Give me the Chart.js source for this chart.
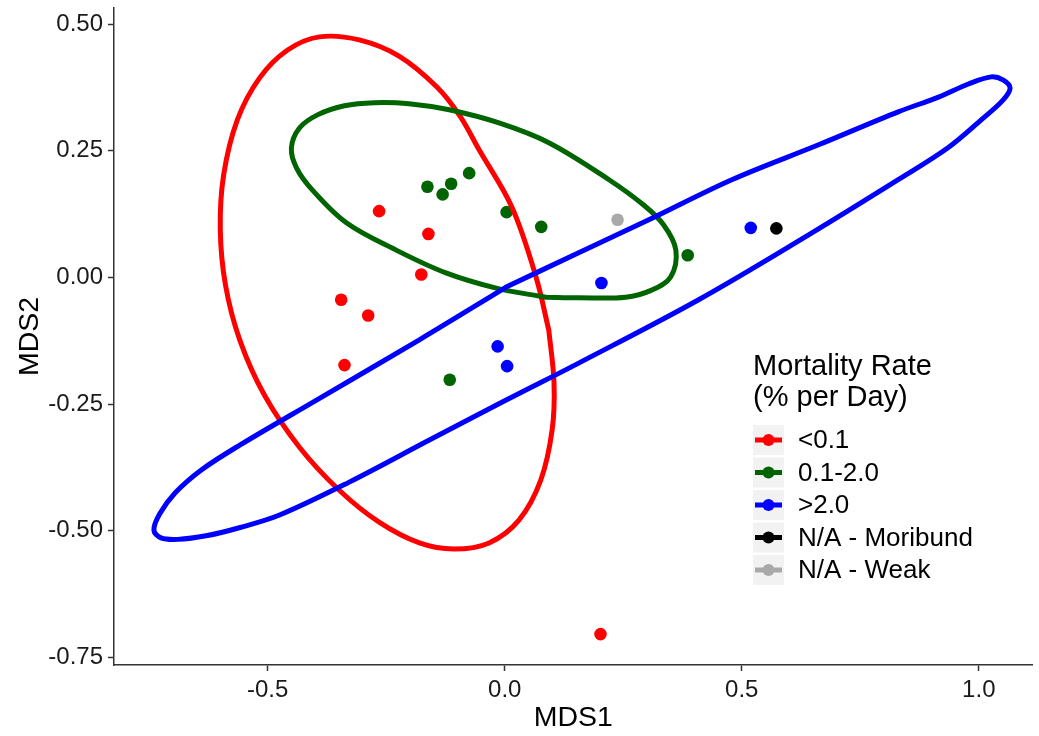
<!DOCTYPE html>
<html>
<head>
<meta charset="utf-8">
<script src="https://cdn.jsdelivr.net/npm/chart.js@4.4.0/dist/chart.umd.min.js"></script>
<style>
  html, body { margin: 0; padding: 0; background: #fff; }
</style>
</head>
<body>
<canvas id="mdsChart" width="1039" height="736"></canvas>
<script>
// groups (legend order) and colours
const groups = ['<0.1', '0.1-2.0', '>2.0', 'N/A - Moribund', 'N/A - Weak'];
const groupColors = ['#FF0000', '#006400', '#0000FF', '#000000', '#A9A9A9'];

// site scores, MDS1 / MDS2
const lowX = [-0.265, -0.161, -0.176, -0.345, -0.288, -0.338, 0.202];
const lowY = [0.131, 0.086, 0.006, -0.044, -0.075, -0.173, -0.704];
const midX = [-0.163, -0.131, -0.113, -0.075, 0.004, 0.077, -0.116, 0.386];
const midY = [0.179, 0.164, 0.185, 0.206, 0.129, 0.100, -0.202, 0.044];
const highX = [-0.015, 0.005, 0.204, 0.519];
const highY = [-0.136, -0.175, -0.011, 0.098];
const moribundX = [0.573];
const moribundY = [0.097];
const weakX = [0.238];
const weakY = [0.114];

// ellipse outlines (each starts on a flat stretch)
const lowEllX = [0.093, 0.104, 0.100, 0.076, 0.030, -0.033, -0.107, -0.180, -0.265, -0.349, -0.433, -0.507, -0.559,
  -0.589, -0.600, -0.593, -0.564, -0.517, -0.458, -0.391, -0.307, -0.223, -0.142, -0.094, -0.054, 0.015, 0.066];
const lowEllY = [-0.104, -0.208, -0.301, -0.400, -0.479, -0.524, -0.536, -0.524, -0.483, -0.420, -0.335, -0.232, -0.123,
  -0.015, 0.094, 0.202, 0.311, 0.394, 0.449, 0.475, 0.469, 0.437, 0.375, 0.318, 0.252, 0.139, 0.001];
const midEllX = [0.087, -0.018, -0.124, -0.229, -0.334, -0.406, -0.439, -0.450, -0.433, -0.395, -0.338, -0.275,
  -0.202, -0.117, -0.012, 0.093, 0.220, 0.293, 0.335, 0.361, 0.350, 0.310, 0.255, 0.156];
const midEllY = [-0.039, -0.021, 0.009, 0.054, 0.108, 0.173, 0.216, 0.256, 0.295, 0.321, 0.339, 0.345,
  0.343, 0.331, 0.305, 0.266, 0.193, 0.143, 0.104, 0.054, 0.001, -0.025, -0.039, -0.040];
const highEllX = [0.003, -0.180, -0.397, -0.559, -0.640, -0.695, -0.728, -0.740, -0.725, -0.690, -0.630, -0.560,
  -0.475, -0.328, -0.159, 0.003, 0.156, 0.409, 0.641, 0.830, 0.935, 1.005, 1.051, 1.066, 1.051, 1.026, 0.978,
  0.915, 0.830, 0.662, 0.479, 0.304, 0.156];
const highEllY = [-0.019, -0.123, -0.242, -0.331, -0.380, -0.425, -0.467, -0.499, -0.514, -0.517, -0.510, -0.494,
  -0.469, -0.404, -0.321, -0.242, -0.169, -0.044, 0.084, 0.193, 0.256, 0.311, 0.350, 0.374, 0.390, 0.396, 0.382,
  0.356, 0.327, 0.262, 0.193, 0.114, 0.049];

const xTicks = [-0.5, 0.0, 0.5, 1.0];
const yTicks = [-0.75, -0.50, -0.25, 0.00, 0.25, 0.50];

function pts(xs, ys) {
  return xs.map(function(x, i) { return {x: x, y: ys[i]}; });
}
function loop(xs, ys) {
  var p = pts(xs, ys);
  p.push(p[0]);
  return p;
}

const FONT = "'Liberation Sans', Arial, sans-serif";

function ellipseSet(data, color, order) {
  return {
    data: data,
    showLine: true,
    borderColor: color,
    borderWidth: 5,
    tension: 0.35,
    borderCapStyle: 'round',
    borderJoinStyle: 'round',
    pointRadius: 0,
    fill: false,
    order: order
  };
}
function pointSet(data, color, order) {
  return {
    data: data,
    backgroundColor: color,
    borderWidth: 0,
    pointRadius: 6.3,
    order: order
  };
}

const datasets = [
  ellipseSet(loop(highEllX, highEllY), groupColors[2], 1),
  ellipseSet(loop(midEllX, midEllY), groupColors[1], 2),
  ellipseSet(loop(lowEllX, lowEllY), groupColors[0], 3),
  pointSet(pts(lowX, lowY), groupColors[0], 10),
  pointSet(pts(midX, midY), groupColors[1], 9),
  pointSet(pts(highX, highY), groupColors[2], 8),
  pointSet(pts(moribundX, moribundY), groupColors[3], 7),
  pointSet(pts(weakX, weakY), groupColors[4], 6)
];

// ggplot-style legend with grey key boxes
const legendPlugin = {
  id: 'mortalityLegend',
  afterDraw: function(chart) {
    var ctx = chart.ctx;
    var left = 753;
    ctx.save();
    ctx.fillStyle = '#000';
    ctx.textAlign = 'left';
    ctx.textBaseline = 'alphabetic';
    ctx.font = "29px " + FONT;
    ctx.fillText('Mortality Rate', left, 375);
    ctx.fillText('(% per Day)', left, 406);
    ctx.font = "26px " + FONT;
    ctx.textBaseline = 'middle';
    for (var i = 0; i < groups.length; i++) {
      var top = 425 + i * 32.5;
      var cy = top + 15;
      ctx.fillStyle = '#F2F2F2';
      ctx.fillRect(left, top, 31, 30);
      ctx.strokeStyle = groupColors[i];
      ctx.lineWidth = 5;
      ctx.beginPath();
      ctx.moveTo(left + 2, cy);
      ctx.lineTo(left + 29, cy);
      ctx.stroke();
      ctx.fillStyle = groupColors[i];
      ctx.beginPath();
      ctx.arc(left + 15.5, cy, 6, 0, Math.PI * 2);
      ctx.fill();
      ctx.fillStyle = '#000';
      ctx.fillText(groups[i], 798, cy + 1);
    }
    ctx.restore();
  }
};

const axisGrid = {
  display: true,
  drawOnChartArea: false,
  drawTicks: true,
  tickLength: 6,
  tickColor: '#333',
  tickWidth: 1.5
};

function noPad(s) {
  s.paddingTop = 0;
  s.paddingBottom = 0;
  s.paddingLeft = 0;
  s.paddingRight = 0;
}

var canvas = document.getElementById('mdsChart');
var chart = new Chart(canvas, {
  type: 'scatter',
  data: { datasets: datasets },
  options: {
    responsive: false,
    animation: false,
    layout: { padding: { top: 8, right: 0, left: 0, bottom: 0 } },
    plugins: {
      legend: { display: false },
      tooltip: { enabled: false }
    },
    scales: {
      x: {
        type: 'linear',
        min: -0.8242,
        max: 1.1137,
        afterBuildTicks: function(s) { s.ticks = xTicks.map(function(v) { return {value: v}; }); },
        afterFit: function(s) { s.height = 736 - 665; noPad(s); },
        ticks: {
          callback: function(v) { return v.toFixed(1); },
          font: { family: FONT, size: 24 },
          color: '#1a1a1a',
          padding: 5,
          maxRotation: 0,
          autoSkip: false
        },
        grid: axisGrid,
        border: { display: true, color: '#333', width: 1.5 },
        title: {
          display: true,
          text: 'MDS1',
          color: '#000',
          font: { family: FONT, size: 28.5 },
          padding: { top: 0, bottom: 1 }
        }
      },
      y: {
        type: 'linear',
        min: -0.765,
        max: 0.532,
        afterBuildTicks: function(s) { s.ticks = yTicks.map(function(v) { return {value: v}; }); },
        afterFit: function(s) { s.width = 114; noPad(s); },
        ticks: {
          callback: function(v) { return v.toFixed(2); },
          font: { family: FONT, size: 24 },
          color: '#1a1a1a',
          padding: 5,
          autoSkip: false
        },
        grid: axisGrid,
        border: { display: true, color: '#333', width: 1.5 },
        title: {
          display: true,
          text: 'MDS2',
          color: '#000',
          font: { family: FONT, size: 28.5 },
          padding: { top: 13, bottom: 0 }
        }
      }
    }
  },
  plugins: [legendPlugin]
});
</script>
</body>
</html>
